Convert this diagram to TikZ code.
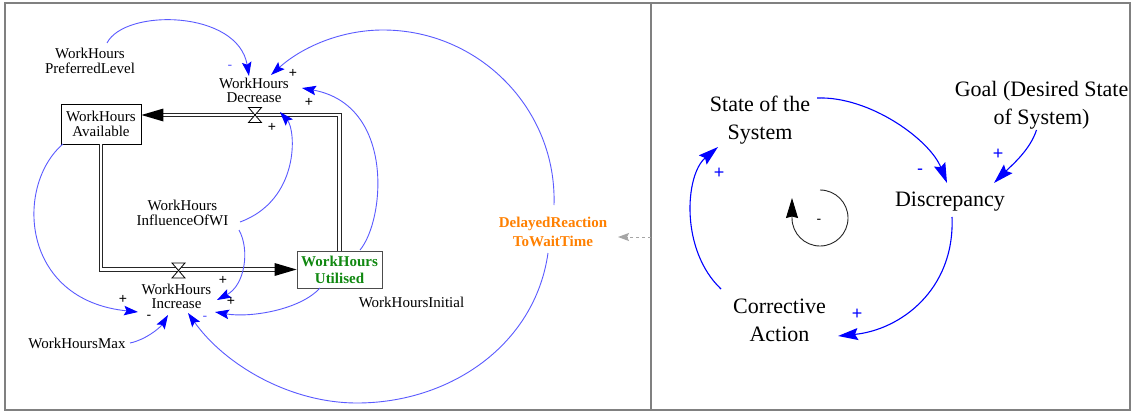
\documentclass[tikz,border=0pt]{standalone}
\usepackage{fontspec}
\setmainfont{Liberation Serif}
\newfontfamily\signfont{Liberation Sans}
\usetikzlibrary{calc,arrows.meta}
\definecolor{linkblue}{RGB}{90,90,255}
\definecolor{tipblue}{RGB}{0,0,255}
\definecolor{framegray}{RGB}{128,128,128}
\definecolor{utilgreen}{RGB}{16,136,16}
\definecolor{delayorange}{RGB}{255,128,0}
\definecolor{dashgray}{RGB}{165,165,165}
\tikzset{
  lbl/.style={font=\fontsize{15}{14.5}\selectfont, align=center, inner sep=0pt},
  big/.style={font=\fontsize{22}{28}\selectfont, align=center, inner sep=0pt},
  stockbox/.style={draw=black, line width=0.9pt, fill=white, lbl, minimum width=80pt, minimum height=40pt},
  pipe/.style={draw=black!85, line width=0.9pt, double=white, double distance=2.6pt, line join=miter},
  link/.style={draw=linkblue, line width=0.9pt, -{Stealth[length=14pt,width=9.5pt,inset=2.5pt,color=tipblue]}},
  cld/.style={draw=tipblue, line width=1.1pt, -{Stealth[length=20pt,width=12pt,inset=3pt,color=tipblue]}},
  sgn/.style={font=\signfont\fontsize{14}{14}\selectfont, inner sep=0pt},
  sgnb/.style={sgn, text=linkblue},
  bigsgn/.style={font=\signfont\fontsize{18}{18}\selectfont, inner sep=0pt, text=tipblue},
  valve/.pic={\draw[black, fill=white, line width=0.8pt]
     (-6.5,-7.5) -- (6.5,-7.5) -- (-6.5,7.5) -- (6.5,7.5) -- cycle;}
}
\begin{document}
\begin{tikzpicture}[x=1pt,y=-1pt]
\useasboundingbox (0,0) rectangle (1131,412);
\fill[white] (0,0) rectangle (1131,412);

% panel frames
\draw[framegray, line width=2pt] (5,3.5) rectangle (651,410);
\draw[framegray, line width=2pt] (651,3.5) rectangle (1129.5,410);

% ---------------- stock and flow model ----------------
\node[stockbox] (avail) at (101,124) {WorkHours\\Available};
\node[stockbox, draw=black!70, minimum width=85pt, minimum height=37pt,
      text=utilgreen, font=\fontsize{15}{17}\selectfont\bfseries] (util) at (339.5,269.5) {WorkHours\\Utilised};

% flows (pipes)
\draw[pipe] (util.north) |- ([xshift=22pt,yshift=9pt]avail.east);
\fill[black] ([yshift=9pt]avail.east) -- ++(22,-6.5) -- ++(0,13) -- cycle;
\draw[pipe] (avail.south) |- ([xshift=-22pt]util.west);
\fill[black] (util.west) -- ++(-22,-6.5) -- ++(0,13) -- cycle;

\coordinate (decvalve) at (255,115);
\coordinate (incvalve) at (178.5,270.5);
\pic at (decvalve) {valve};
\pic at (incvalve) {valve};

% variables
\node[lbl] (pref) at (90,60.7) {WorkHours\\PreferredLevel};
\node[lbl] (dec) at (254,90.5) {WorkHours\\Decrease};
\node[lbl] (inc) at (176.5,296.5) {WorkHours\\Increase};
\node[lbl] (infl) at (182.5,213) {WorkHours\\InfluenceOfWI};
\node[lbl] (initial) at (411.5,302.5) {WorkHoursInitial};
\node[lbl] (wmax) at (77,343.5) {WorkHoursMax};
\node[lbl, text=delayorange, font=\fontsize{15}{18.5}\selectfont\bfseries] (delayed) at (553,232) {DelayedReaction\\ToWaitTime};

% causal links
\draw[link] ($(pref)+(17,-17.7)$) .. controls (125,8) and (238,10) .. ($(dec)+(-5,-14.5)$);
\draw[link] ($(delayed)+(1,-27)$) .. controls (557,109) and (479,30) .. (383,30)
            .. controls (341,30) and (302,47) .. ($(dec)+(17,-15.5)$);
\draw[link] ($(util)+(20.5,-19.5)$) .. controls (385,220) and (395,105) .. ($(dec)+(48,-2.5)$);
\draw[link] ($(infl)+(57.5,9)$) .. controls (300,200) and (296,130) .. ($(dec)+(26,21.5)$);
\draw[link] ($(infl)+(56.5,17)$) .. controls (250,250) and (245,285) .. ($(inc)+(40.5,3.5)$);
\draw[link] ($(util)+(-19.5,18.5)$) .. controls (300,310) and (250,318) .. ($(inc)+(38.5,15.5)$);
\draw[link] ($(avail)+(-38,20)$) .. controls (15,185) and (20,300) .. ($(inc)+(-38.5,15.5)$);
\draw[link] ($(wmax)+(53,-0.5)$) .. controls (145,340) and (160,328) .. ($(inc)+(-8.5,18.5)$);
\draw[link] ($(delayed)+(-5,21)$) .. controls (535,345) and (450,403) .. (357,403)
            .. controls (290,403) and (225,365) .. ($(inc)+(11.5,16.5)$);

% link polarities
\node[sgnb] at (230,67) {-};
\node[sgn] at (293,73) {+};
\node[sgn] at (309,102) {+};
\node[sgn] at (272,127) {+};
\node[sgn] at (123,299) {+};
\node[sgn] at (223,280) {+};
\node[sgn] at (231,301) {+};
\node[sgn] at (149,317) {-};
\node[sgnb] at (205,318) {-};

% reference from the divider
\coordinate (divider) at (651,237);
\draw[dashgray, line width=1pt, dash pattern=on 3pt off 3pt,
      -{Stealth[length=11pt,width=8pt,inset=2pt,color=dashgray]}] (divider) -- ($(delayed)+(65,5)$);

% ---------------- balancing loop ----------------
\node[big] (state) at (760,120) {State of the\\System};
\node[big] (goal) at (1041.5,105.7) {Goal (Desired State\\of System)};
\node[big] (disc) at (950,201.6) {Discrepancy};
\node[big] (corr) at (779.5,320) {Corrective\\Action};

\draw[cld] ($(state)+(57,-22)$) .. controls (870,96) and (930,140) .. ($(disc)+(-3,-18.6)$);
\draw[cld] ($(goal)+(-5,24.3)$) .. controls (1030,150) and (1012,165) .. ($(disc)+(44,-18.6)$);
\draw[cld] ($(disc)+(2,15.4)$) .. controls (955,290) and (900,330) .. ($(corr)+(58.5,16)$);
\draw[cld] ($(corr)+(-58.5,-31)$) .. controls (680,250) and (685,175) .. ($(state)+(-42,27)$);

\node[bigsgn] at (920,172) {-};
\node[bigsgn] at (998,154) {+};
\node[bigsgn] at (857,314) {+};
\node[bigsgn] at (719,173) {+};

% loop marker
\coordinate (loopc) at (820,218);
\draw[black!85, line width=0.9pt, -{Stealth[length=20pt,width=12pt,inset=1.5pt,color=black]}]
  ($(loopc)+(0,-28)$) arc[start angle=-90, end angle=180, radius=28] -- ++(0,-20);
\node[font=\signfont\fontsize{14}{14}\selectfont, inner sep=0pt] at (819,221) {-};
\end{tikzpicture}
\end{document}
